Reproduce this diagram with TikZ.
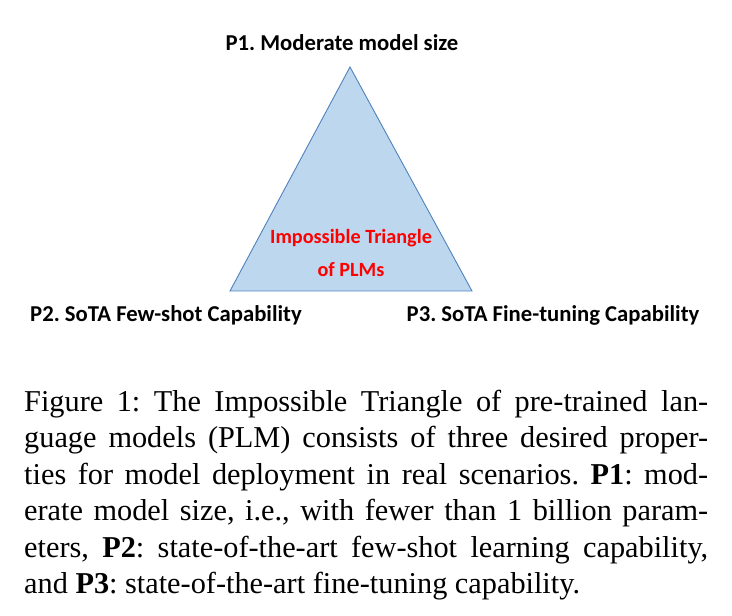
\documentclass[tikz,border=0pt]{standalone}
\usepackage{fontspec}
\setmainfont{Liberation Serif}
\newfontfamily\labelfont{Carlito}
\frenchspacing
\begin{document}
\begin{tikzpicture}[x=1pt,y=1pt,
  vlabel/.style={font=\labelfont\bfseries\fontsize{22.7}{25}\selectfont, inner sep=0pt, text=black},
  redlabel/.style={font=\labelfont\bfseries\fontsize{20.2}{24}\selectfont, inner sep=0pt, text=red},
  tri/.style={fill=triFill, draw=triLine, line width=0.9pt, line join=miter}]
\definecolor{triFill}{RGB}{189,215,238}
\definecolor{triLine}{RGB}{80,130,190}
\useasboundingbox (0,0) rectangle (732,616);
\coordinate (apex) at (350,549);
\coordinate (bl) at (230,325);
\coordinate (br) at (472,325);
\draw[tri] (apex) -- (bl) -- (br) -- cycle;
\node[vlabel] (p1) at (342,573) {P1. Moderate model size};
\node[vlabel] (p2) at (166,301) {P2. SoTA Few-shot Capability};
\node[vlabel] (p3) at (553,301) {P3. SoTA Fine-tuning Capability};
\node[redlabel] (r1) at (351,378) {Impossible Triangle};
\node[redlabel] (r2) at (351,346) {of PLMs};
\node[anchor=north west, inner sep=0pt, text width=684pt, align=justify,
      font=\fontsize{30.3}{36.4}\selectfont] (cap) at (24,226)
  {Figure 1: The Impossible Triangle of pre-trained lan-\linebreak
   guage models (PLM) consists of three desired proper-\linebreak
   ties for model deployment in real scenarios. \textbf{P1}: mod-\linebreak
   erate model size, i.e., with fewer than 1 billion param-\linebreak
   eters, \textbf{P2}: state-of-the-art few-shot learning capability,\linebreak
   and \textbf{P3}: state-of-the-art fine-tuning capability.};
\end{tikzpicture}
\end{document}
